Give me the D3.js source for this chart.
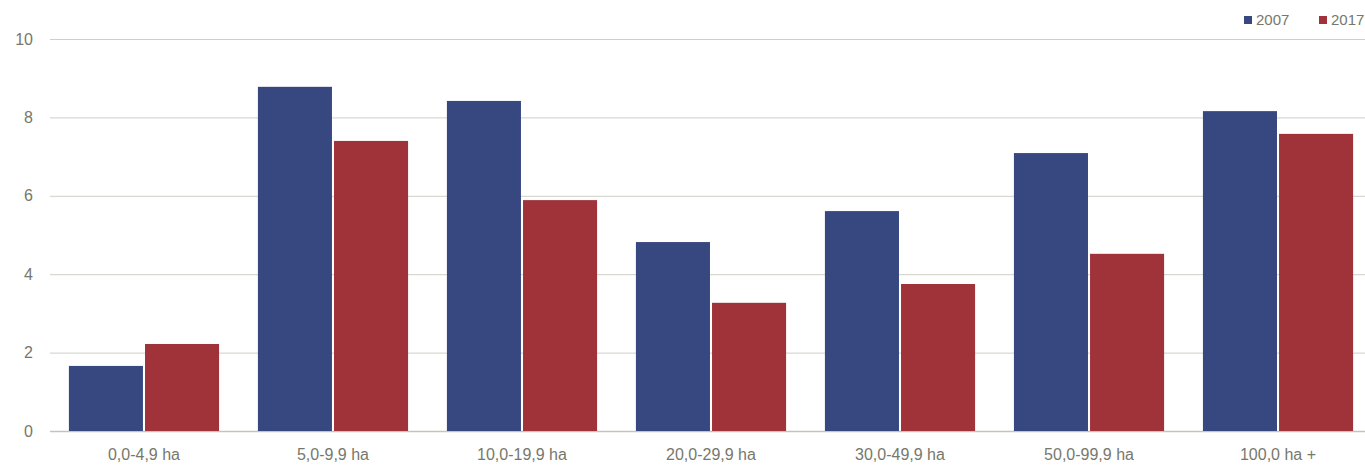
<!DOCTYPE html>
<html>
<head>
<meta charset="utf-8">
<script src="https://cdn.jsdelivr.net/npm/d3@7"></script>
<style>
  body { margin: 0; background: #fff; }
  text { font-family: "Liberation Sans Narrow", "Arial Narrow", "Liberation Sans", sans-serif; fill: #77786c; }
</style>
</head>
<body>
<svg width="1365" height="466"></svg>
<script>
var categories = ["0,0-4,9 ha", "5,0-9,9 ha", "10,0-19,9 ha", "20,0-29,9 ha", "30,0-49,9 ha", "50,0-99,9 ha", "100,0 ha +"];
var seriesNames = ["2007", "2017"];
var values2007 = [1.66, 8.78, 8.42, 4.82, 5.61, 7.09, 8.16];
var values2017 = [2.22, 7.40, 5.89, 3.27, 3.75, 4.52, 7.58];
var yTicks = [0, 2, 4, 6, 8, 10];
var colors = ["#374881", "#a0323a"];

var svg = d3.select('svg');
var plotLeft = 50, plotRight = 1365, plotTop = 39, plotBottom = 431;

var y = d3.scaleLinear().domain([0, 10]).range([plotBottom, plotTop]);
// bands run a little past the right edge, like the original
var x = d3.scaleBand().domain(categories).range([plotLeft, 1372]).paddingInner(0.2055).paddingOuter(0.1);
var x1 = d3.scaleBand().domain(seriesNames).range([0, x.bandwidth()]).paddingInner(0.027);

// gridlines
svg.append('g').selectAll('line')
    .data(yTicks)
    .enter()
    .append('line')
    .attr('x1', plotLeft)
    .attr('x2', plotRight)
    .attr('y1', function (d) { return y(d) + 0.5; })
    .attr('y2', function (d) { return y(d) + 0.5; })
    .attr('stroke', function (d) { return d === 0 ? '#c4c4b8' : '#cfcfc6'; })
    .attr('stroke-width', function (d) { return d === 0 ? 1.5 : 1; });

// y labels
svg.append('g').selectAll('text')
    .data(yTicks)
    .enter()
    .append('text')
    .attr('x', 33)
    .attr('y', function (d) { return y(d); })
    .attr('dy', '0.35em')
    .attr('text-anchor', 'end')
    .style('font-size', '16px')
    .text(function (d) { return d; });

var rows = categories.map(function (c, i) {
    return { cat: c, vals: [values2007[i], values2017[i]] };
});

var groups = svg.append('g').selectAll('g')
    .data(rows)
    .enter()
    .append('g')
    .attr('transform', function (d) { return 'translate(' + x(d.cat) + ',0)'; });

groups.selectAll('rect')
    .data(function (d) { return d.vals.map(function (v, j) { return { s: seriesNames[j], v: v, j: j }; }); })
    .enter()
    .append('rect')
    .attr('x', function (d) { return x1(d.s); })
    .attr('y', function (d) { return y(d.v); })
    .attr('width', x1.bandwidth())
    .attr('height', function (d) { return plotBottom - y(d.v); })
    .attr('fill', function (d) { return colors[d.j]; });

// x labels
svg.append('g').selectAll('text')
    .data(categories)
    .enter()
    .append('text')
    .attr('x', function (d) { return x(d) + x.bandwidth() / 2; })
    .attr('y', 460)
    .attr('text-anchor', 'middle')
    .style('font-size', '16px')
    .text(function (d) { return d; });

// legend
var legend = svg.append('g').attr('transform', 'translate(1244, 20)');
var lg = legend.selectAll('g')
    .data(seriesNames)
    .enter()
    .append('g')
    .attr('transform', function (d, i) { return 'translate(' + (i * 75) + ',0)'; });
lg.append('rect')
    .attr('x', 0).attr('y', -4).attr('width', 8).attr('height', 8)
    .attr('fill', function (d, i) { return colors[i]; });
lg.append('text')
    .attr('x', 12)
    .attr('dy', '0.35em')
    .style('font-size', '15px')
    .text(function (d) { return d; });
</script>
</body>
</html>
